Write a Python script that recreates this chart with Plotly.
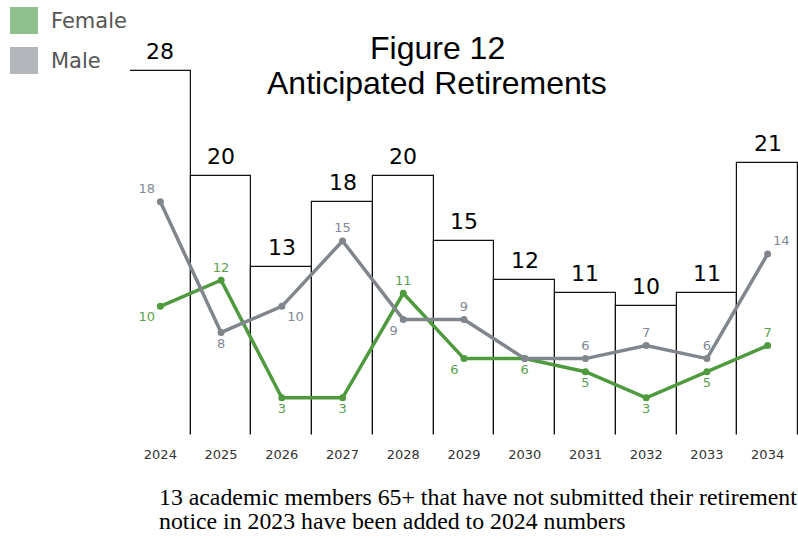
import plotly.graph_objects as go

# ---- data ----
years = ["2024", "2025", "2026", "2027", "2028", "2029", "2030", "2031", "2032", "2033", "2034"]
totals = [28, 20, 13, 18, 20, 15, 12, 11, 10, 11, 21]
female = [10, 12, 3, 3, 11, 6, 6, 5, 3, 5, 7]
male = [18, 8, 10, 15, 9, 9, 6, 6, 7, 6, 14]

title_lines = ["Figure 12", "Anticipated Retirements"]
note_lines = ["13 academic members 65+ that have not submitted their retirement",
              "notice in 2023 have been added to 2024 numbers"]

# ---- styles ----
female_pos = ["bottom left", "top center", "bottom center", "bottom center", "top center",
              "bottom left", "bottom center", "bottom center", "bottom center", "bottom center",
              "top center"]
male_pos = ["top left", "bottom center", "bottom right", "top center", "bottom left",
            "top center", "top center", "top center", "top center", "top center", "top right"]
male_show = [True, True, True, True, True, True, False, True, True, True, True]

GREEN = "#4f9a3f"
GREEN_LBL = "#59a14f"
GRAY = "#80868c"
GRAY_LBL = "#808894"

W, H = 798, 539
ML, MR, MT, MB = 130, 0, 30, 100
PW, PH = W - ML - MR, H - MT - MB
PX_PER_UNIT = 13.07

def px_to_paper_x(px):
    return (px - ML) / PW

def px_to_paper_y(py):
    return (H - MB - py) / PH

fig = go.Figure()

fig.add_trace(go.Bar(
    x=years, y=totals,
    marker=dict(color="white", line=dict(color="#111111", width=1.2)),
    showlegend=False, hoverinfo="skip",
))

fig.add_trace(go.Scatter(
    x=years, y=female, mode="lines+markers+text",
    line=dict(color=GREEN, width=3.5),
    marker=dict(color=GREEN, size=7),
    text=[str(v) for v in female],
    textposition=female_pos,
    textfont=dict(family="DejaVu Sans", size=13, color=GREEN_LBL),
    showlegend=False,
))

fig.add_trace(go.Scatter(
    x=years, y=male, mode="lines+markers+text",
    line=dict(color=GRAY, width=3.5),
    marker=dict(color=GRAY, size=7),
    text=[str(v) if s else "" for v, s in zip(male, male_show)],
    textposition=male_pos,
    textfont=dict(family="DejaVu Sans", size=13, color=GRAY_LBL),
    showlegend=False,
))

annotations = []
for i, t in enumerate(totals):
    annotations.append(dict(
        x=i, y=t, xref="x", yref="y", text=str(t), showarrow=False,
        yanchor="bottom", yshift=5,
        font=dict(family="DejaVu Sans", size=22, color="black"),
    ))

# title
for line, py in zip(title_lines, [48, 83]):
    annotations.append(dict(
        x=px_to_paper_x(437), y=px_to_paper_y(py), xref="paper", yref="paper",
        text=line, showarrow=False, xanchor="center", yanchor="middle",
        font=dict(family="Arial", size=32, color="black"),
    ))

# note
for line, py in zip(note_lines, [496.5, 520.5]):
    annotations.append(dict(
        x=px_to_paper_x(157), y=px_to_paper_y(py), xref="paper", yref="paper",
        text=line, showarrow=False, xanchor="left", yanchor="middle",
        font=dict(family="Liberation Serif", size=23.8, color="black"),
    ))

# custom legend
legend_items = [("Female", "#8dc08d", 7, 34, 21), ("Male", "#b3b6ba", 47, 74, 61)]
shapes = []
for name, col, y0, y1, ty in legend_items:
    shapes.append(dict(
        type="rect", xref="paper", yref="paper",
        x0=px_to_paper_x(10), x1=px_to_paper_x(38),
        y0=px_to_paper_y(y1), y1=px_to_paper_y(y0),
        fillcolor=col, line=dict(width=0), layer="above",
    ))
    annotations.append(dict(
        x=px_to_paper_x(49), y=px_to_paper_y(ty), xref="paper", yref="paper",
        text=name, showarrow=False, xanchor="left", yanchor="middle",
        font=dict(family="DejaVu Sans", size=21, color="#555555"),
    ))

# white strip hiding the bars' bottom outline (open-bottom bars as in reference)
shapes.append(dict(
    type="rect", xref="paper", yref="y",
    x0=-0.01, x1=1.01, y0=-1.0, y1=0.2,
    fillcolor="white", line=dict(width=0), layer="above",
))

fig.update_layout(
    width=W, height=H,
    margin=dict(l=ML, r=MR, t=MT, b=MB),
    paper_bgcolor="white", plot_bgcolor="white",
    bargap=0,
    annotations=annotations, shapes=shapes,
    xaxis=dict(
        type="category", range=[-0.5, 10.5], showgrid=False, zeroline=False,
        showline=False, ticks="", ticklabelstandoff=6,
        tickfont=dict(family="DejaVu Sans", size=13, color="#333333"),
    ),
    yaxis=dict(
        range=[-0.15, -0.15 + PH / PX_PER_UNIT], showgrid=False, zeroline=False,
        showline=False, showticklabels=False, ticks="",
    ),
)

fig.write_html("out.html")
